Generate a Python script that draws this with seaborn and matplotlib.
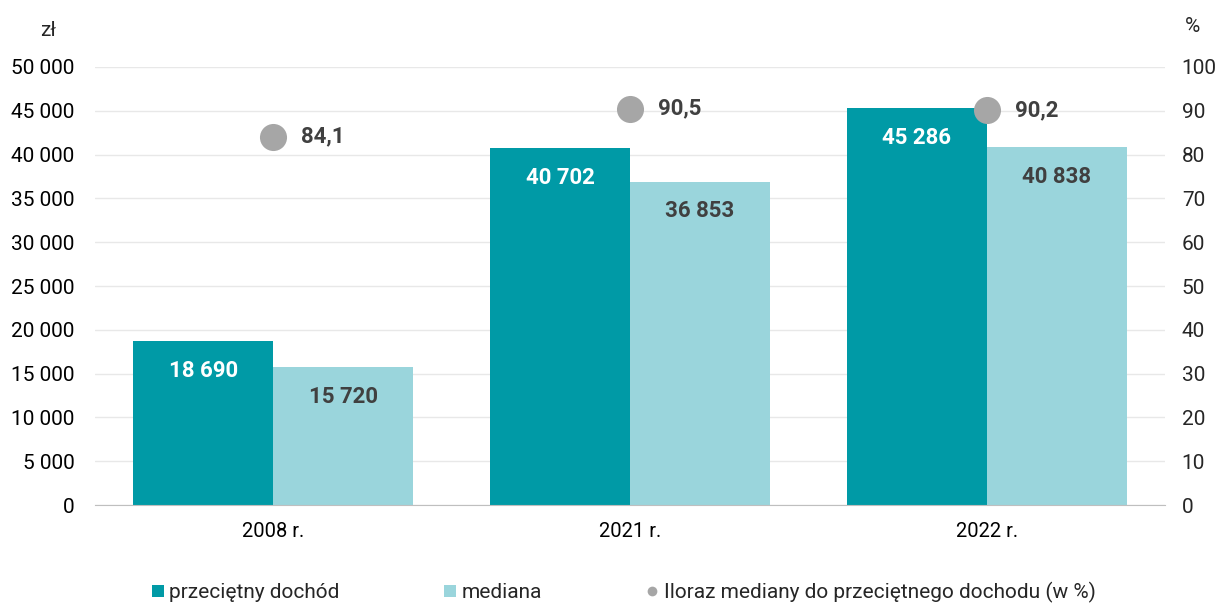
import numpy as np
import pandas as pd
import matplotlib.pyplot as plt
import seaborn as sns
from matplotlib.lines import Line2D
from matplotlib.ticker import FuncFormatter, MultipleLocator

# ── DATA ───────────────────────────────────────────────────────────
years = ["2008 r.", "2021 r.", "2022 r."]
avg_income = [18690, 40702, 45286]
median_income = [15720, 36853, 40838]
ratio = [84.1, 90.5, 90.2]

series_names = ["przeciętny dochód", "mediana"]
ratio_name = "Iloraz mediany do przeciętnego dochodu (w %)"

DARK = "#009aa6"
LIGHT = "#9ad5dc"
GREY = "#a6a6a6"
TXT = "#404040"

df = pd.DataFrame({
    "year": years * 2,
    "value": avg_income + median_income,
    "series": [series_names[0]] * 3 + [series_names[1]] * 3,
})

# ── STYLE ──────────────────────────────────────────────────────────
sns.set_style("white")
plt.rcParams["font.family"] = ["Roboto", "DejaVu Sans"]

def spaced(v, pos=None):
    return f"{int(round(v)):,}".replace(",", " ")

# ── PLOT ───────────────────────────────────────────────────────────
fig = plt.figure(figsize=(12.2, 6.03), dpi=100)
ax = fig.add_axes([0.078, 0.1625, 0.877, 0.7264])

sns.barplot(data=df, x="year", y="value", hue="series",
            palette=[DARK, LIGHT], width=0.785, gap=0,
            saturation=1, ax=ax, legend=False, linewidth=0)

ax.set_ylim(0, 50000)
ax.set_xlim(-0.5, 2.5)
ax.yaxis.set_major_locator(MultipleLocator(5000))
ax.yaxis.set_major_formatter(FuncFormatter(spaced))
ax.grid(axis="y", color="#e8e8e8", linewidth=1)
ax.set_axisbelow(True)
ax.set_xlabel("")
ax.set_ylabel("")
for s in ["left", "right", "top"]:
    ax.spines[s].set_visible(False)
ax.spines["bottom"].set_color("#bfbfbf")
ax.tick_params(axis="y", length=0, labelsize=15, colors="black", pad=15)
ax.tick_params(axis="x", length=0, labelsize=14.5, colors="black", pad=12)

# bar labels inside near the top
for cont, col in zip(ax.containers, ["white", TXT]):
    labels = [spaced(b.get_height()) for b in cont]
    ax.bar_label(cont, labels=labels, label_type="edge", padding=-29,
                 color=col, fontsize=16, fontweight="bold")

# ratio points on right axis
ax2 = ax.twinx()
ax2.scatter(years, ratio, s=380, color=GREY, zorder=5, linewidths=0)
for x, r in zip(years, ratio):
    ax2.annotate(f"{r:.1f}".replace(".", ","), (x, r),
                 xytext=(20, 0), textcoords="offset points",
                 va="center", ha="left", fontsize=16,
                 fontweight="bold", color=TXT)
ax2.set_ylim(0, 100)
ax2.yaxis.set_major_locator(MultipleLocator(10))
for s in ["left", "right", "top", "bottom"]:
    ax2.spines[s].set_visible(False)
ax2.tick_params(axis="y", length=0, labelsize=15, pad=12)
ax2.grid(False)

# unit labels
fig.text(48 / 1220, 1 - 30 / 603, "zł", ha="center", va="center", fontsize=15)
fig.text(1192 / 1220, 1 - 27 / 603, "%", ha="center", va="center", fontsize=15)

# legend
handles = [
    Line2D([], [], marker="s", linestyle="none", markersize=9,
           markerfacecolor=DARK, markeredgewidth=0),
    Line2D([], [], marker="s", linestyle="none", markersize=9,
           markerfacecolor=LIGHT, markeredgewidth=0),
    Line2D([], [], marker="o", linestyle="none", markersize=7,
           markerfacecolor=GREY, markeredgewidth=0),
]
fig.legend(handles, series_names + [ratio_name], loc="center",
           bbox_to_anchor=(0.511, 1 - 592 / 603), ncol=3, frameon=False,
           fontsize=15, handletextpad=0.25, columnspacing=5.0,
           handlelength=0.6)

fig.savefig("out.png", dpi=100)
